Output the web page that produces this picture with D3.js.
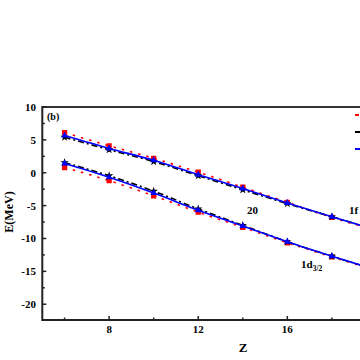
<!DOCTYPE html>
<html><head><meta charset="utf-8">
<script src="https://cdn.jsdelivr.net/npm/d3@7"></script>
<style>html,body{margin:0;padding:0;background:#fff;}svg{display:block;}</style>
</head><body>
<script>
const Z = [6, 8, 10, 12, 14, 16, 18, 20];
// upper group (1f)
const upperRed   = [6.1, 4.1, 2.2, 0.1, -2.2, -4.5, -6.8, -8.8];
const upperBlack = [5.4, 3.5, 1.7, -0.45, -2.6, -4.7, -6.7, -8.7];
const upperBlue  = [5.65, 3.7, 1.9, -0.3, -2.4, -4.6, -6.7, -8.7];
// lower group (1d3/2)
const lowerRed   = [0.8, -1.2, -3.5, -6.0, -8.3, -10.65, -12.8, -14.9];
const lowerBlack = [1.55, -0.45, -2.8, -5.5, -8.0, -10.5, -12.7, -14.8];
const lowerBlue  = [1.4, -0.7, -3.1, -5.7, -8.1, -10.5, -12.7, -14.8];
const xMajor = [8, 12, 16, 20];
const xMinor = [6, 10, 14, 18];
const yMajor = [-20, -15, -10, -5, 0, 5, 10];
const yMinor = [-17.5, -12.5, -7.5, -2.5, 2.5, 7.5];

const W = 360, H = 360;
const L = 42.3, T = 107, B = 320, R = 421;
const svg = d3.select("body").append("svg").attr("width", W).attr("height", H);
svg.append("rect").attr("width", W).attr("height", H).attr("fill", "#fff");

const x = d3.scaleLinear().domain([5, 22]).range([L, R]);
const y = d3.scaleLinear().domain([-22.4, 10]).range([B, T]);

svg.append("clipPath").attr("id", "clip").append("rect")
  .attr("x", L).attr("y", T).attr("width", R - L).attr("height", B - T);

const font = "'Liberation Serif','Times New Roman',serif";
const plot = svg.append("g").attr("clip-path", "url(#clip)");

const series = [
  {v: upperRed, color: "#ff0000", dash: "2.5,6", w: 1.6, sym: "square"},
  {v: upperBlack, color: "#000000", dash: "6,3,2,3", w: 1.6, sym: "star"},
  {v: upperBlue, color: "#0000ff", dash: null, w: 1.6, sym: "tri"},
  {v: lowerRed, color: "#ff0000", dash: "2.5,6", w: 1.6, sym: "square"},
  {v: lowerBlack, color: "#000000", dash: "6,3,2,3", w: 1.6, sym: "star"},
  {v: lowerBlue, color: "#0000ff", dash: null, w: 1.6, sym: "tri"}
];
const line = d3.line().x(d => x(d[0])).y(d => y(d[1])).curve(d3.curveMonotoneX);
const symMap = {square: d3.symbolSquare, star: d3.symbolStar, tri: d3.symbolTriangle};
const symSize = {square: 28, star: 22, tri: 20};
series.forEach(s => {
  const pts = Z.map((z, i) => [z, s.v[i]]);
  plot.append("path").attr("d", line(pts)).attr("fill", "none")
    .attr("stroke", s.color).attr("stroke-width", s.w)
    .attr("stroke-dasharray", s.dash);
  plot.selectAll(null).data(pts).enter().append("path")
    .attr("d", d3.symbol().type(symMap[s.sym]).size(symSize[s.sym]))
    .attr("transform", d => `translate(${x(d[0])},${y(d[1])})`)
    .attr("fill", s.color);
});

// axes frame
const axc = "#222";
svg.append("line").attr("x1", L).attr("x2", W).attr("y1", T).attr("y2", T).attr("stroke", "#333").attr("stroke-width", 2.2);
svg.append("line").attr("x1", L).attr("x2", W).attr("y1", B).attr("y2", B).attr("stroke", axc).attr("stroke-width", 2);
svg.append("line").attr("x1", L).attr("x2", L).attr("y1", T - 1).attr("y2", B + 1).attr("stroke", axc).attr("stroke-width", 2);

// x ticks (inward); labels only where they fall inside the picture
xMajor.forEach(v => {
  svg.append("line").attr("x1", x(v)).attr("x2", x(v)).attr("y1", B).attr("y2", B - 4).attr("stroke", axc).attr("stroke-width", 1.5);
  if (x(v) + 8 < W) {
    svg.append("text").attr("x", x(v)).attr("y", 333).attr("text-anchor", "middle")
      .attr("font-family", font).attr("font-weight", "bold").attr("font-size", 11).text(v);
  }
});
xMinor.forEach(v => {
  svg.append("line").attr("x1", x(v)).attr("x2", x(v)).attr("y1", B).attr("y2", B - 2.5).attr("stroke", axc).attr("stroke-width", 1.5);
});
yMajor.forEach(v => {
  svg.append("line").attr("x1", L).attr("x2", L + 4).attr("y1", y(v)).attr("y2", y(v)).attr("stroke", axc).attr("stroke-width", 1.5);
  svg.append("text").attr("x", 36).attr("y", y(v) + 4).attr("text-anchor", "end")
    .attr("font-family", font).attr("font-weight", "bold").attr("font-size", 11).text(v);
});
yMinor.forEach(v => {
  svg.append("line").attr("x1", L).attr("x2", L + 2.5).attr("y1", y(v)).attr("y2", y(v)).attr("stroke", axc).attr("stroke-width", 1.5);
});

// axis titles
svg.append("text").attr("x", 243).attr("y", 352).attr("text-anchor", "middle")
  .attr("font-family", font).attr("font-weight", "bold").attr("font-size", 13).text("Z");
svg.append("text").attr("transform", "translate(13,212) rotate(-90)").attr("text-anchor", "middle")
  .attr("font-family", font).attr("font-weight", "bold").attr("font-size", 12).text("E(MeV)");

// annotations
const ann = (tx, ty, t) => svg.append("text").attr("x", tx).attr("y", ty)
  .attr("font-family", font).attr("font-weight", "bold").attr("font-size", 11).text(t);
ann(47, 120, "(b)").attr("font-size", 10);
ann(247, 214, "20");
ann(349, 214, "1f");
const d32 = ann(301, 268, "1d");
d32.append("tspan").attr("font-size", 7.5).attr("dy", 3).text("3/2");

// legend (cut off at right edge)
const legend = [
  {c: "#ff0000", dash: "4,5", yy: 115},
  {c: "#000000", dash: "6,3,2,3", yy: 132},
  {c: "#0000ff", dash: null, yy: 149}
];
legend.forEach(l => {
  svg.append("line").attr("x1", 355).attr("x2", 390).attr("y1", l.yy).attr("y2", l.yy)
    .attr("stroke", l.c).attr("stroke-width", 1.8).attr("stroke-dasharray", l.dash);
});
</script>
</body></html>
